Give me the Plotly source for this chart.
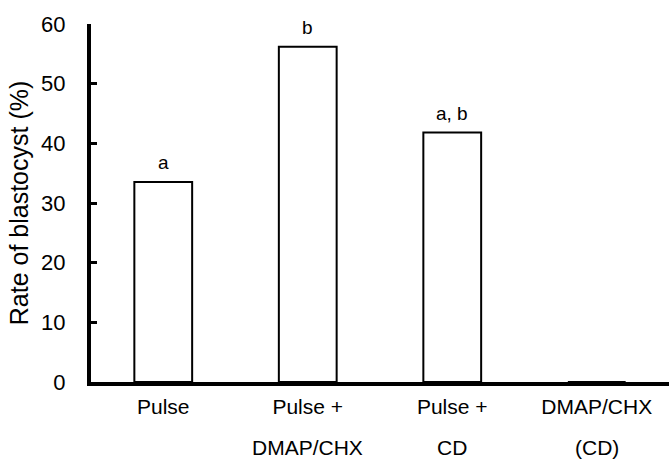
import plotly.graph_objects as go

categories = ["Pulse", "Pulse + DMAP/CHX", "Pulse + CD", "DMAP/CHX (CD)"]
label_line1 = ["Pulse", "Pulse +", "Pulse +", "DMAP/CHX"]
label_line2 = ["", "DMAP/CHX", "CD", "(CD)"]
rates = [33.5, 56.2, 41.8, 0]
letters = ["a", "b", "a, b", ""]
y_ticks = [0, 10, 20, 30, 40, 50, 60]

FONT = "Liberation Sans, Arial, sans-serif"

fig = go.Figure()
fig.add_trace(go.Bar(
    x=categories, y=rates, width=0.4,
    marker=dict(color="white", line=dict(color="black", width=2)),
    hoverinfo="skip",
))

annotations = []
for c, v, l in zip(categories, rates, letters):
    if l:
        annotations.append(dict(x=c, y=v, text=l, showarrow=False, yanchor="bottom",
                                yshift=7, font=dict(family=FONT, size=19, color="black")))
for c, l2 in zip(categories, label_line2):
    if l2:
        annotations.append(dict(x=c, xref="x", y=-0.184, yref="paper", text=l2,
                                showarrow=False, yanchor="middle",
                                font=dict(family=FONT, size=21, color="black")))

fig.update_layout(
    width=669, height=460,
    margin=dict(l=91, r=0, t=24, b=78),
    paper_bgcolor="white", plot_bgcolor="white",
    showlegend=False,
    font=dict(family=FONT, color="black"),
    annotations=annotations,
    xaxis=dict(
        type="category", range=[-0.5, 3.5],
        tickvals=categories, ticktext=label_line1,
        tickfont=dict(family=FONT, size=21, color="black"),
        showline=True, linewidth=4, linecolor="black",
        ticks="", showgrid=False, zeroline=False,
        ticklabelstandoff=3,
    ),
    yaxis=dict(
        range=[0, 60], tickvals=y_ticks,
        tickfont=dict(family=FONT, size=22, color="black"),
        showline=True, linewidth=4, linecolor="black",
        ticks="inside", ticklen=6, tickwidth=3, tickcolor="black",
        showgrid=False, zeroline=False,
        ticklabelstandoff=17,
        title=dict(text="Rate of blastocyst (%)", standoff=6,
                   font=dict(family=FONT, size=25, color="black")),
    ),
)

fig.write_html("out.html", config={"displayModeBar": False},
               post_script="document.body.style.margin='0';")
